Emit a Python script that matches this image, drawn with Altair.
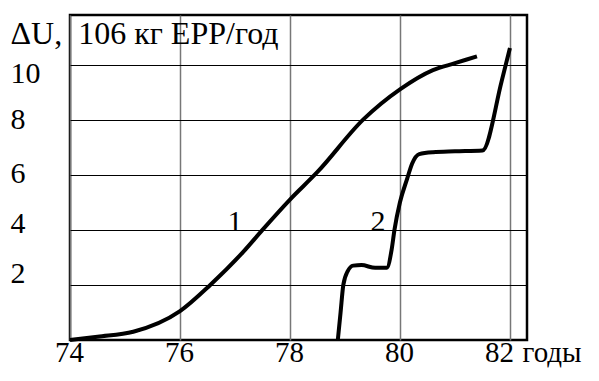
import altair as alt
import pandas as pd

# Curve 1
x1 = [74.0, 74.5, 75.15, 76.0, 76.55, 77.15, 77.5, 78.0, 78.5, 79.33, 80.0, 80.6, 81.0, 81.4]
y1 = [0.0, 0.12, 0.3, 1.05, 2.0, 3.2, 4.0, 5.1, 6.1, 8.0, 9.1, 9.8, 10.05, 10.3]
# Curve 2
x2 = [78.87, 78.92, 78.97, 79.05, 79.15, 79.3, 79.55, 79.76, 79.85, 79.9, 80.0, 80.13, 80.22, 80.35, 80.6, 81.0, 81.5, 81.85, 82.0]
y2 = [0.0, 1.0, 2.0, 2.5, 2.7, 2.72, 2.62, 2.62, 3.3, 4.0, 5.0, 5.85, 6.4, 6.75, 6.82, 6.85, 6.88, 9.4, 10.6]

x_ticks = [74, 76, 78, 80, 82]
y_ticks = [2, 4, 6, 8, 10]

curve_names = ["1", "2"]
label_x = [77.0, 79.6]
label_y = [4.29, 4.3]

FONT = "Liberation Serif, Times New Roman, serif"

df = pd.concat([
    pd.DataFrame({"x": x1, "y": y1, "c": "1"}),
    pd.DataFrame({"x": x2, "y": y2, "c": "2"}),
])
lab = pd.DataFrame({"x": label_x, "y": label_y, "t": curve_names})

xs = alt.Scale(domain=[74, 82.31], nice=False, zero=False)
ys = alt.Scale(domain=[0, 11.8], nice=False, zero=False)

xaxis = alt.Axis(
    values=x_ticks, format="d", domain=False, ticks=False, grid=True,
    gridColor="#777777", gridWidth=1.5,
    labelFont=FONT, labelFontSize=29, labelColor="black",
    labelBaseline="alphabetic", labelPadding=21, labelFlush=False,
    labelAlign="center",
    labelOffset=alt.ExprRef("datum.value == 82 ? -11 : -1"),
    title="годы", titleFont=FONT, titleFontSize=29, titleFontWeight="normal",
    titleColor="black", titleX=452, titleY=21, titleAlign="left",
    titleBaseline="alphabetic", titleAngle=0,
)
yaxis = alt.Axis(
    values=y_ticks, format="d", domain=False, ticks=False, grid=True,
    gridColor="black", gridWidth=1,
    labelFont=FONT, labelFontSize=30, labelColor="black",
    labelAlign="left", labelBaseline="middle", labelPadding=60,
    labelFlush=False,
    labelOffset=alt.ExprRef("datum.value == 10 ? 9 : datum.value == 4 ? -6 : datum.value == 2 ? -11 : datum.value == 6 ? -1 : 0"),
    title="ΔU,\u00a0\u00a0106 кг ЕРР/год", titleFont=FONT, titleFontSize=32,
    titleFontWeight="normal", titleColor="black",
    titleX=-60, titleY=28, titleAngle=0, titleAlign="left",
    titleBaseline="alphabetic",
)

lines = alt.Chart(df).mark_line(color="black", strokeWidth=4, interpolate="monotone").encode(
    x=alt.X("x:Q", scale=xs, axis=xaxis),
    y=alt.Y("y:Q", scale=ys, axis=yaxis),
    detail="c:N",
)

texts = alt.Chart(lab).mark_text(font=FONT, fontSize=30, color="black", baseline="middle", align="center").encode(
    x=alt.X("x:Q", scale=xs),
    y=alt.Y("y:Q", scale=ys),
    text="t:N",
)

chart = (lines + texts).properties(
    width=457, height=325,
    autosize=alt.AutoSizeParams(type="none"),
    padding={"left": 62, "top": 7, "right": 64, "bottom": 28},
    background="white",
).configure_view(stroke="black", strokeWidth=2.5)

chart.save("out.html", embed_options={"renderer": "svg", "actions": False})
